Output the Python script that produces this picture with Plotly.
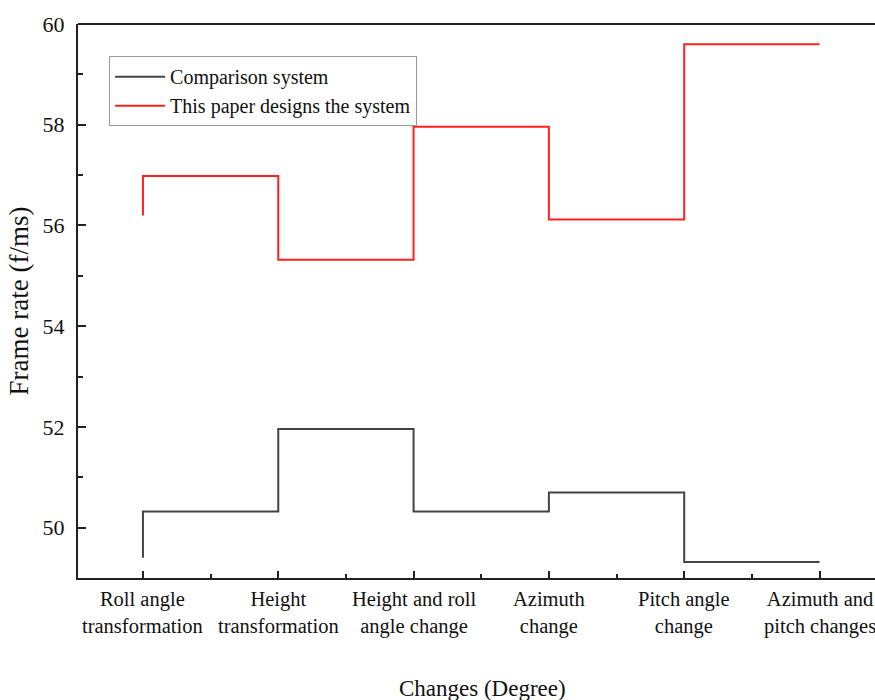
import plotly.graph_objects as go

categories = ["Roll angle<br>transformation", "Height<br>transformation", "Height and roll<br>angle change",
              "Azimuth<br>change", "Pitch angle<br>change", "Azimuth and<br>pitch changes"]
comparison = [49.4, 50.32, 51.96, 50.32, 50.7, 49.32]
designed = [56.2, 56.98, 55.32, 57.96, 56.12, 59.6]
y_ticks = [50, 52, 54, 56, 58, 60]

xs = list(range(len(categories)))
FONT = "Liberation Serif"

fig = go.Figure()
fig.add_trace(go.Scatter(x=xs, y=comparison, mode="lines", line=dict(shape="vh", color="#444444", width=2),
                         name="Comparison system"))
fig.add_trace(go.Scatter(x=xs, y=designed, mode="lines", line=dict(shape="vh", color="#ff2020", width=2),
                         name="This paper designs the system"))

fig.update_layout(
    width=875, height=700,
    margin=dict(l=78, r=0, t=24, b=122),
    paper_bgcolor="white", plot_bgcolor="white",
    font=dict(family=FONT, size=20, color="#111111"),
    showlegend=True,
    legend=dict(x=0.039, y=0.942, xanchor="left", yanchor="top", bgcolor="white",
                bordercolor="#999999", borderwidth=1, font=dict(size=20),
                tracegroupgap=0, itemwidth=50),
)
fig.update_xaxes(
    range=[-0.48, 5.41], tickvals=xs, showticklabels=False,
    showline=True, linecolor="#222222", linewidth=2, mirror=False,
    ticks="inside", ticklen=7, tickwidth=1.5, tickcolor="#222222",
    minor=dict(tickvals=[0.5, 1.5, 2.5, 3.5, 4.5], ticks="inside", ticklen=4, tickwidth=1.5, tickcolor="#222222"),
    showgrid=False, zeroline=False,
)
fig.update_yaxes(
    range=[49, 60], tickvals=y_ticks,
    showline=True, linecolor="#222222", linewidth=2, mirror=False,
    ticks="inside", ticklen=8, tickwidth=1.5, tickcolor="#222222",
    minor=dict(tickvals=[51, 53, 55, 57, 59], ticks="inside", ticklen=5, tickwidth=1.5, tickcolor="#222222"),
    showgrid=False, zeroline=False,
    tickfont=dict(size=22), ticklabelstandoff=7,
    title=dict(text="Frame rate (f/ms)", font=dict(size=27), standoff=6),
)
# category tick labels (drawn as annotations so the last one is clipped by the page edge like the reference)
for xi, label in zip(xs, categories):
    fig.add_annotation(x=xi, xref="x", y=0, yref="paper", yanchor="top", yshift=-9,
                       text=label, showarrow=False, align="center", borderpad=0,
                       font=dict(size=20.5, family=FONT, color="#111111"))
fig.add_annotation(x=0.507, xref="paper", y=688, yref="paper", text="Changes (Degree)", showarrow=False,
                   font=dict(size=23, family=FONT, color="#111111"))
fig.layout.annotations[-1].update(y=-(688 - 578) / 554, yanchor="middle")
# top frame line
fig.add_shape(type="line", xref="paper", yref="paper", x0=0, x1=1, y0=1, y1=1,
              line=dict(color="#222222", width=2))
fig.write_html("out.html")
